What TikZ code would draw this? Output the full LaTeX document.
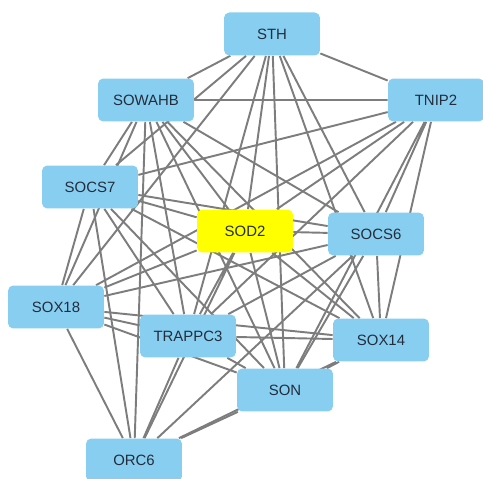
\documentclass[tikz,border=0pt]{standalone}
\usepackage{fontspec}
\setmainfont{Liberation Sans}
\usepackage{tikz}
\usetikzlibrary{backgrounds}
\definecolor{genefill}{RGB}{135,206,240}
\definecolor{hubfill}{RGB}{255,255,0}
\definecolor{genetext}{RGB}{35,45,60}
\definecolor{linkgray}{RGB}{125,125,125}
\tikzset{
    gene/.style={
        rectangle, rounded corners=3pt, minimum width=1.92cm, minimum height=0.86cm,
        align=center, draw=none, fill=genefill, text=genetext, font=\fontsize{8.5}{10}\selectfont
    },
    hub/.style={
        gene, fill=hubfill
    },
    link/.style={
        line width=1.1pt, draw=linkgray
    }
}

\begin{document}
\begin{tikzpicture}[x=0.02cm, y=-0.02cm]
    \useasboundingbox (0,0) rectangle (483,479);
    \node[gene] (sth) at (272, 34) {STH};
    \node[gene] (sowahb) at (146, 100) {SOWAHB};
    \node[gene] (tnip2) at (436, 100) {TNIP2};
    \node[gene] (socs7) at (90, 187) {SOCS7};
    \node[hub] (sod2) at (245, 231) {SOD2};
    \node[gene] (socs6) at (376, 234) {SOCS6};
    \node[gene] (sox18) at (56, 307) {SOX18};
    \node[gene] (trappc3) at (188, 336) {TRAPPC3};
    \node[gene] (sox14) at (381, 340) {SOX14};
    \node[gene] (son) at (285, 390) {SON};
    \node[gene] (orc6) at (134, 460) {ORC6};

    \begin{scope}[on background layer]
    \draw[link] (sth) -- (sowahb) (sth) -- (tnip2) (sth) -- (socs7) (sth) -- (sod2) (sth) -- (socs6)
        (sth) -- (sox18) (sth) -- (trappc3) (sth) -- (sox14) (sth) -- (son);
    \draw[link] (sowahb) -- (tnip2) (sowahb) -- (socs7) (sowahb) -- (sod2) (sowahb) -- (socs6)
        (sowahb) -- (sox18) (sowahb) -- (trappc3) (sowahb) -- (sox14) (sowahb) -- (son) (sowahb) -- (orc6);
    \draw[link] (tnip2) -- (socs7) (tnip2) -- (sod2) (tnip2) -- (socs6) (tnip2) -- (sox18)
        (tnip2) -- (trappc3) (tnip2) -- (sox14) (tnip2) -- (son);
    \draw[link] (socs7) -- (sod2) (socs7) -- (socs6) (socs7) -- (sox18) (socs7) -- (trappc3)
        (socs7) -- (sox14) (socs7) -- (son) (socs7) -- (orc6);
    \draw[link] (sod2) -- (socs6) (sod2) -- (sox18) (sod2) -- (trappc3) (sod2) -- (sox14)
        (sod2) -- (son) (sod2) -- (orc6);
    \draw[link] (socs6) -- (sox18) (socs6) -- (trappc3) (socs6) -- (sox14) (socs6) -- (son) (socs6) -- (orc6);
    \draw[link] (sox18) -- (trappc3) (sox18) -- (sox14) (sox18) -- (son) (sox18) -- (orc6);
    \draw[link] (trappc3) -- (sox14) (trappc3) -- (son) (trappc3) -- (orc6);
    \draw[link] (sox14) -- (son) (sox14) -- (orc6);
    \draw[link] (son) -- (orc6);
    \end{scope}
\end{tikzpicture}
\end{document}
